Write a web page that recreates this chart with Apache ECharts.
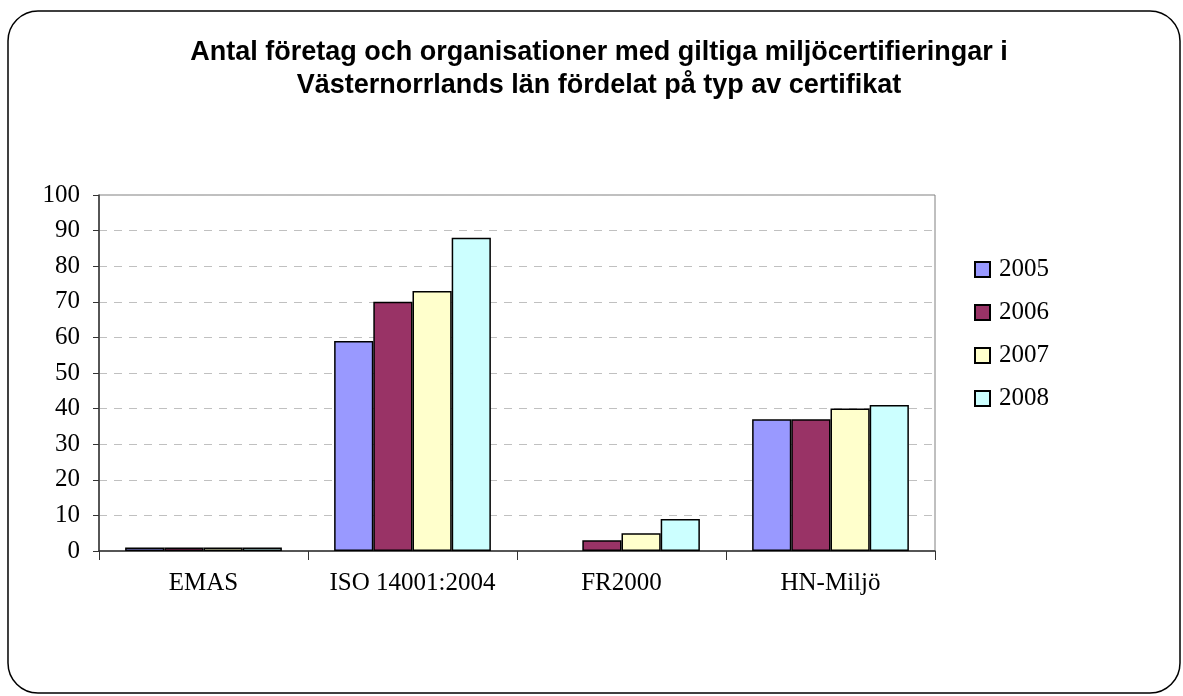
<!DOCTYPE html>
<html>
<head>
<meta charset="utf-8">
<script src="https://cdn.jsdelivr.net/npm/echarts@6/dist/echarts.min.js"></script>
<style>
  html, body {margin: 0; padding: 0; background: #fff;}
  #chart {width: 1183px; height: 696px;}
</style>
</head>
<body>
<div id="chart"></div>
<script>
const categories = ['EMAS', 'ISO 14001:2004', 'FR2000', 'HN-Miljö']
const years = ['2005', '2006', '2007', '2008']
const values2005 = [1, 59, 0, 37]
const values2006 = [1, 70, 3, 37]
const values2007 = [1, 73, 5, 40]
const values2008 = [1, 88, 9, 41]
const colors = ['#9999ff', '#993366', '#ffffcc', '#ccffff']

const seriesValues = [values2005, values2006, values2007, values2008]

const chart = echarts.init(document.getElementById('chart'))

// zero-height bars are not outlined in the original
const barData = values => values.map(v => v === 0 ? {value: v, itemStyle: {borderWidth: 0}} : v)

chart.setOption({
  animation: false,
  title: {
    text: 'Antal företag och organisationer med giltiga miljöcertifieringar i\nVästernorrlands län fördelat på typ av certifikat',
    left: 594,
    textAlign: 'center',
    top: 31,
    textStyle: {
      fontFamily: 'Liberation Sans',
      fontWeight: 'bold',
      fontSize: 27,
      lineHeight: 33,
      color: '#000'
    }
  },
  graphic: [{
    type: 'rect',
    shape: {x: 8, y: 11, width: 1172, height: 682, r: 30},
    style: {fill: 'none', stroke: '#000', lineWidth: 1.5},
    z: -1
  }],
  legend: {
    orient: 'vertical',
    left: 969,
    top: 252,
    itemWidth: 15,
    itemHeight: 15,
    itemGap: 18,
    icon: 'rect',
    data: years,
    textStyle: {fontFamily: 'Liberation Serif', fontSize: 25, color: '#000', padding: [0, 0, 0, 4]}
  },
  grid: {
    left: 99,
    right: 248,
    top: 195,
    bottom: 145,
    show: true,
    borderColor: '#808080',
    borderWidth: 1
  },
  xAxis: {
    type: 'category',
    data: categories,
    axisLine: {lineStyle: {color: '#333', width: 1.5}},
    axisTick: {show: true, interval: 0, length: 9, lineStyle: {color: '#333'}},
    axisLabel: {interval: 0, fontFamily: 'Liberation Serif', fontSize: 25, color: '#000', margin: 20}
  },
  yAxis: {
    type: 'value',
    min: 0,
    max: 100,
    interval: 10,
    axisLine: {show: true, lineStyle: {color: '#333', width: 1.5}},
    axisTick: {show: true, length: 6, lineStyle: {color: '#333'}},
    axisLabel: {fontFamily: 'Liberation Serif', fontSize: 25, color: '#000', margin: 19},
    splitLine: {lineStyle: {color: '#c0c0c0', type: [8, 7]}}
  },
  series: years.map((y, i) => ({
    name: y,
    type: 'bar',
    data: barData(seriesValues[i]),
    barGap: '0%',
    barCategoryGap: '25%',
    itemStyle: {color: colors[i], borderColor: '#000', borderWidth: 1.5}
  }))
})
</script>
</body>
</html>
